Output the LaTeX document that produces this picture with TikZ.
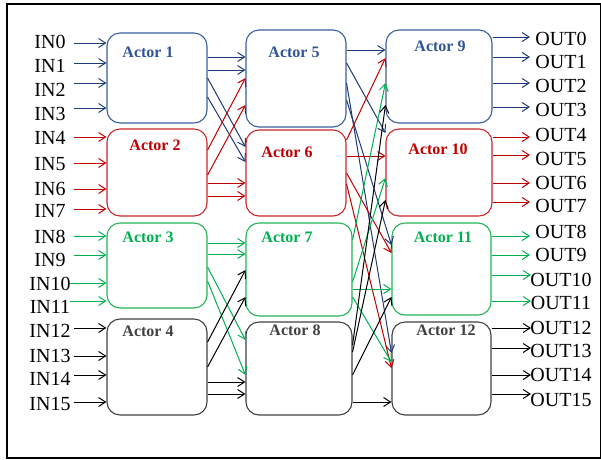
\documentclass[tikz,border=0pt]{standalone}
\usepackage{fontspec}
\setmainfont{Liberation Serif}
\usetikzlibrary{arrows.meta}
\definecolor{bbox}{HTML}{3A5F9B}
\definecolor{ablue}{HTML}{1F3A78}
\definecolor{tblue}{HTML}{2F5597}
\definecolor{rbox}{HTML}{C8282D}
\definecolor{ared}{HTML}{C00000}
\definecolor{gbox}{HTML}{22B455}
\definecolor{agreen}{HTML}{00B050}
\definecolor{kbox}{HTML}{404040}
\definecolor{ablack}{HTML}{000000}
\definecolor{tblack}{HTML}{404040}
\begin{document}
\begin{tikzpicture}[x=1pt,y=-1pt,
  actorbox/.style={draw, rounded corners=13pt, line width=1.1pt, inner sep=0pt},
  lbl/.style={font=\fontsize{16}{19}\selectfont\bfseries, inner sep=0pt},
  io/.style={font=\fontsize{20}{24}\selectfont, inner sep=0pt},
  con/.style={line width=1pt, -{Straight Barb[length=7pt,width=9pt]}}]
\useasboundingbox (0,0) rectangle (601,459);
\draw[line width=1.1pt] (7,4) rectangle (600.5,458);

% column 1
\node[actorbox, bbox, minimum width=100pt, minimum height=90pt] (a1) at (157,78) {};
\node[actorbox, rbox, minimum width=100pt, minimum height=87pt] (a2) at (157,172.5) {};
\node[actorbox, gbox, minimum width=100pt, minimum height=85pt] (a3) at (157,265.5) {};
\node[actorbox, kbox, minimum width=100pt, minimum height=96pt] (a4) at (157,367) {};
% column 2
\node[actorbox, bbox, minimum width=100pt, minimum height=97pt] (a5) at (296,78.5) {};
\node[actorbox, rbox, minimum width=100pt, minimum height=86pt] (a6) at (296,173) {};
\node[actorbox, gbox, minimum width=106pt, minimum height=93pt] (a7) at (299,269.5) {};
\node[actorbox, kbox, minimum width=106pt, minimum height=93pt] (a8) at (299,368.5) {};
% column 3
\node[actorbox, bbox, minimum width=106pt, minimum height=93pt] (a9) at (439,76.5) {};
\node[actorbox, rbox, minimum width=106pt, minimum height=87pt] (a10) at (439,172.5) {};
\node[actorbox, gbox, minimum width=99pt, minimum height=92pt] (a11) at (441.5,269) {};
\node[actorbox, kbox, minimum width=99pt, minimum height=93pt] (a12) at (441.5,368.5) {};

% labels
\node[lbl, text=tblue] (l1) at (148,52) {Actor 1};
\node[lbl, text=ared] (l2) at (155,145) {Actor 2};
\node[lbl, text=agreen] (l3) at (148,237) {Actor 3};
\node[lbl, text=tblack] (l4) at (148,331) {Actor 4};
\node[lbl, text=tblue] (l5) at (294,52) {Actor 5};
\node[lbl, text=ared] (l6) at (287,152) {Actor 6};
\node[lbl, text=agreen] (l7) at (287,237) {Actor 7};
\node[lbl, text=tblack] (l8) at (295,330) {Actor 8};
\node[lbl, text=tblue] (l9) at (440,46) {Actor 9};
\node[lbl, text=ared] (l10) at (438,149) {Actor 10};
\node[lbl, text=agreen] (l11) at (443,237) {Actor 11};
\node[lbl, text=tblack] (l12) at (446,330) {Actor 12};

% inputs
\foreach \i/\ty/\ay/\bx/\col/\sx in {
  0/42/43/a1/ablue/74, 1/65.5/63/a1/ablue/74, 2/90/83/a1/ablue/74, 3/114/108/a1/ablue/74,
  4/138/137/a2/ared/74, 5/164/163/a2/ared/74, 6/189/189/a2/ared/74, 7/210.5/209/a2/ared/74,
  8/237/236/a3/agreen/74, 9/260/255/a3/agreen/74, 10/284/283/a3/agreen/70, 11/307/301/a3/agreen/70,
  12/331/328/a4/ablack/74, 13/356/356/a4/ablack/74, 14/379/375/a4/ablack/74, 15/404/402/a4/ablack/74}{
  \node[io] (in\i) at (50,\ty) {IN\i};
  \coordinate (s\i) at (\sx,\ay);
  \draw[con,\col] (s\i) -- (\bx.west |- s\i);
}

% outputs
\foreach \i/\ty/\ay/\bx/\col/\ex in {
  0/38.5/37/a9/ablue/530, 1/62/57/a9/ablue/530, 2/86/83/a9/ablue/530, 3/110/107/a9/ablue/530,
  4/135/137/a10/ared/530, 5/159/155/a10/ared/530, 6/183/183/a10/ared/530, 7/206/202/a10/ared/530,
  8/231.5/236/a11/agreen/530, 9/255/255/a11/agreen/530, 10/279.5/275/a11/agreen/531, 11/303/301/a11/agreen/531,
  12/328/328/a12/ablack/531, 13/351/348/a12/ablack/531, 14/375/375/a12/ablack/531, 15/399.5/394/a12/ablack/531}{
  \node[io] (out\i) at (561,\ty) {OUT\i};
  \coordinate (e\i) at (\ex,\ay);
  \draw[con,\col] (\bx.east |- e\i) -- (e\i);
}

% column 1 -> column 2
\draw[con,ablue] (a1.east |- 0,57) -- (a5.west |- 0,57);
\draw[con,ablue] (a1.east |- 0,70) -- (a5.west |- 0,70);
\draw[con,ablue] (a1.east |- 0,78) -- (a6.west |- 0,147);
\draw[con,ablue] (a1.east |- 0,97) -- (a6.west |- 0,162);
\draw[con,ared] (a2.east |- 0,150) -- (a5.west |- 0,78);
\draw[con,ared] (a2.east |- 0,175) -- (a5.west |- 0,105);
\draw[con,ared] (a2.east |- 0,183) -- (a6.west |- 0,183);
\draw[con,ared] (a2.east |- 0,196) -- (a6.west |- 0,196);
\draw[con,agreen] (a3.east |- 0,243) -- (a7.west |- 0,243);
\draw[con,agreen] (a3.east |- 0,254) -- (a7.west |- 0,254);
\draw[con,agreen] (a3.east |- 0,267) -- (a8.west |- 0,340);
\draw[con,agreen] (a3.east |- 0,281) -- (a8.west |- 0,375);
\draw[con,ablack] (a4.east |- 0,342) -- (a7.west |- 0,270);
\draw[con,ablack] (a4.east |- 0,367) -- (a7.west |- 0,297);
\draw[con,ablack] (a4.east |- 0,382) -- (a8.west |- 0,382);
\draw[con,ablack] (a4.east |- 0,394) -- (a8.west |- 0,394);

% column 2 -> column 3
\draw[con,ablue] (a5.east |- 0,50) -- (a9.west |- 0,50);
\draw[con,ablue] (a5.east |- 0,63) -- (a10.west |- 0,133);
\draw[con,ablue] (a5.east |- 0,100) -- (a11.west |- 0,245);
\draw[con,ablue] (a5.east |- 0,83) -- (a12.west |- 0,353);
\draw[con,ared] (a6.east |- 0,140) -- (a9.west |- 0,58);
\draw[con,ared] (a6.east |- 0,156) -- (a10.west |- 0,156);
\draw[con,ared] (a6.east |- 0,173) -- (a11.west |- 0,253);
\draw[con,ared] (a6.east |- 0,184) -- (a12.west |- 0,368);
\draw[con,agreen] (a7.east |- 0,240) -- (a9.west |- 0,83);
\draw[con,agreen] (a7.east |- 0,282) -- (a10.west |- 0,178);
\draw[con,agreen] (a7.east |- 0,289) -- (a11.west |- 0,289);
\draw[con,agreen] (a7.east |- 0,297) -- (a12.west |- 0,362);
\draw[con,ablack] (a8.east |- 0,345) -- (a9.west |- 0,105);
\draw[con,ablack] (a8.east |- 0,352) -- (a10.west |- 0,200);
\draw[con,ablack] (a8.east |- 0,375) -- (a11.west |- 0,297);
\draw[con,ablack] (a8.east |- 0,402) -- (a12.west |- 0,402);
\end{tikzpicture}
\end{document}
